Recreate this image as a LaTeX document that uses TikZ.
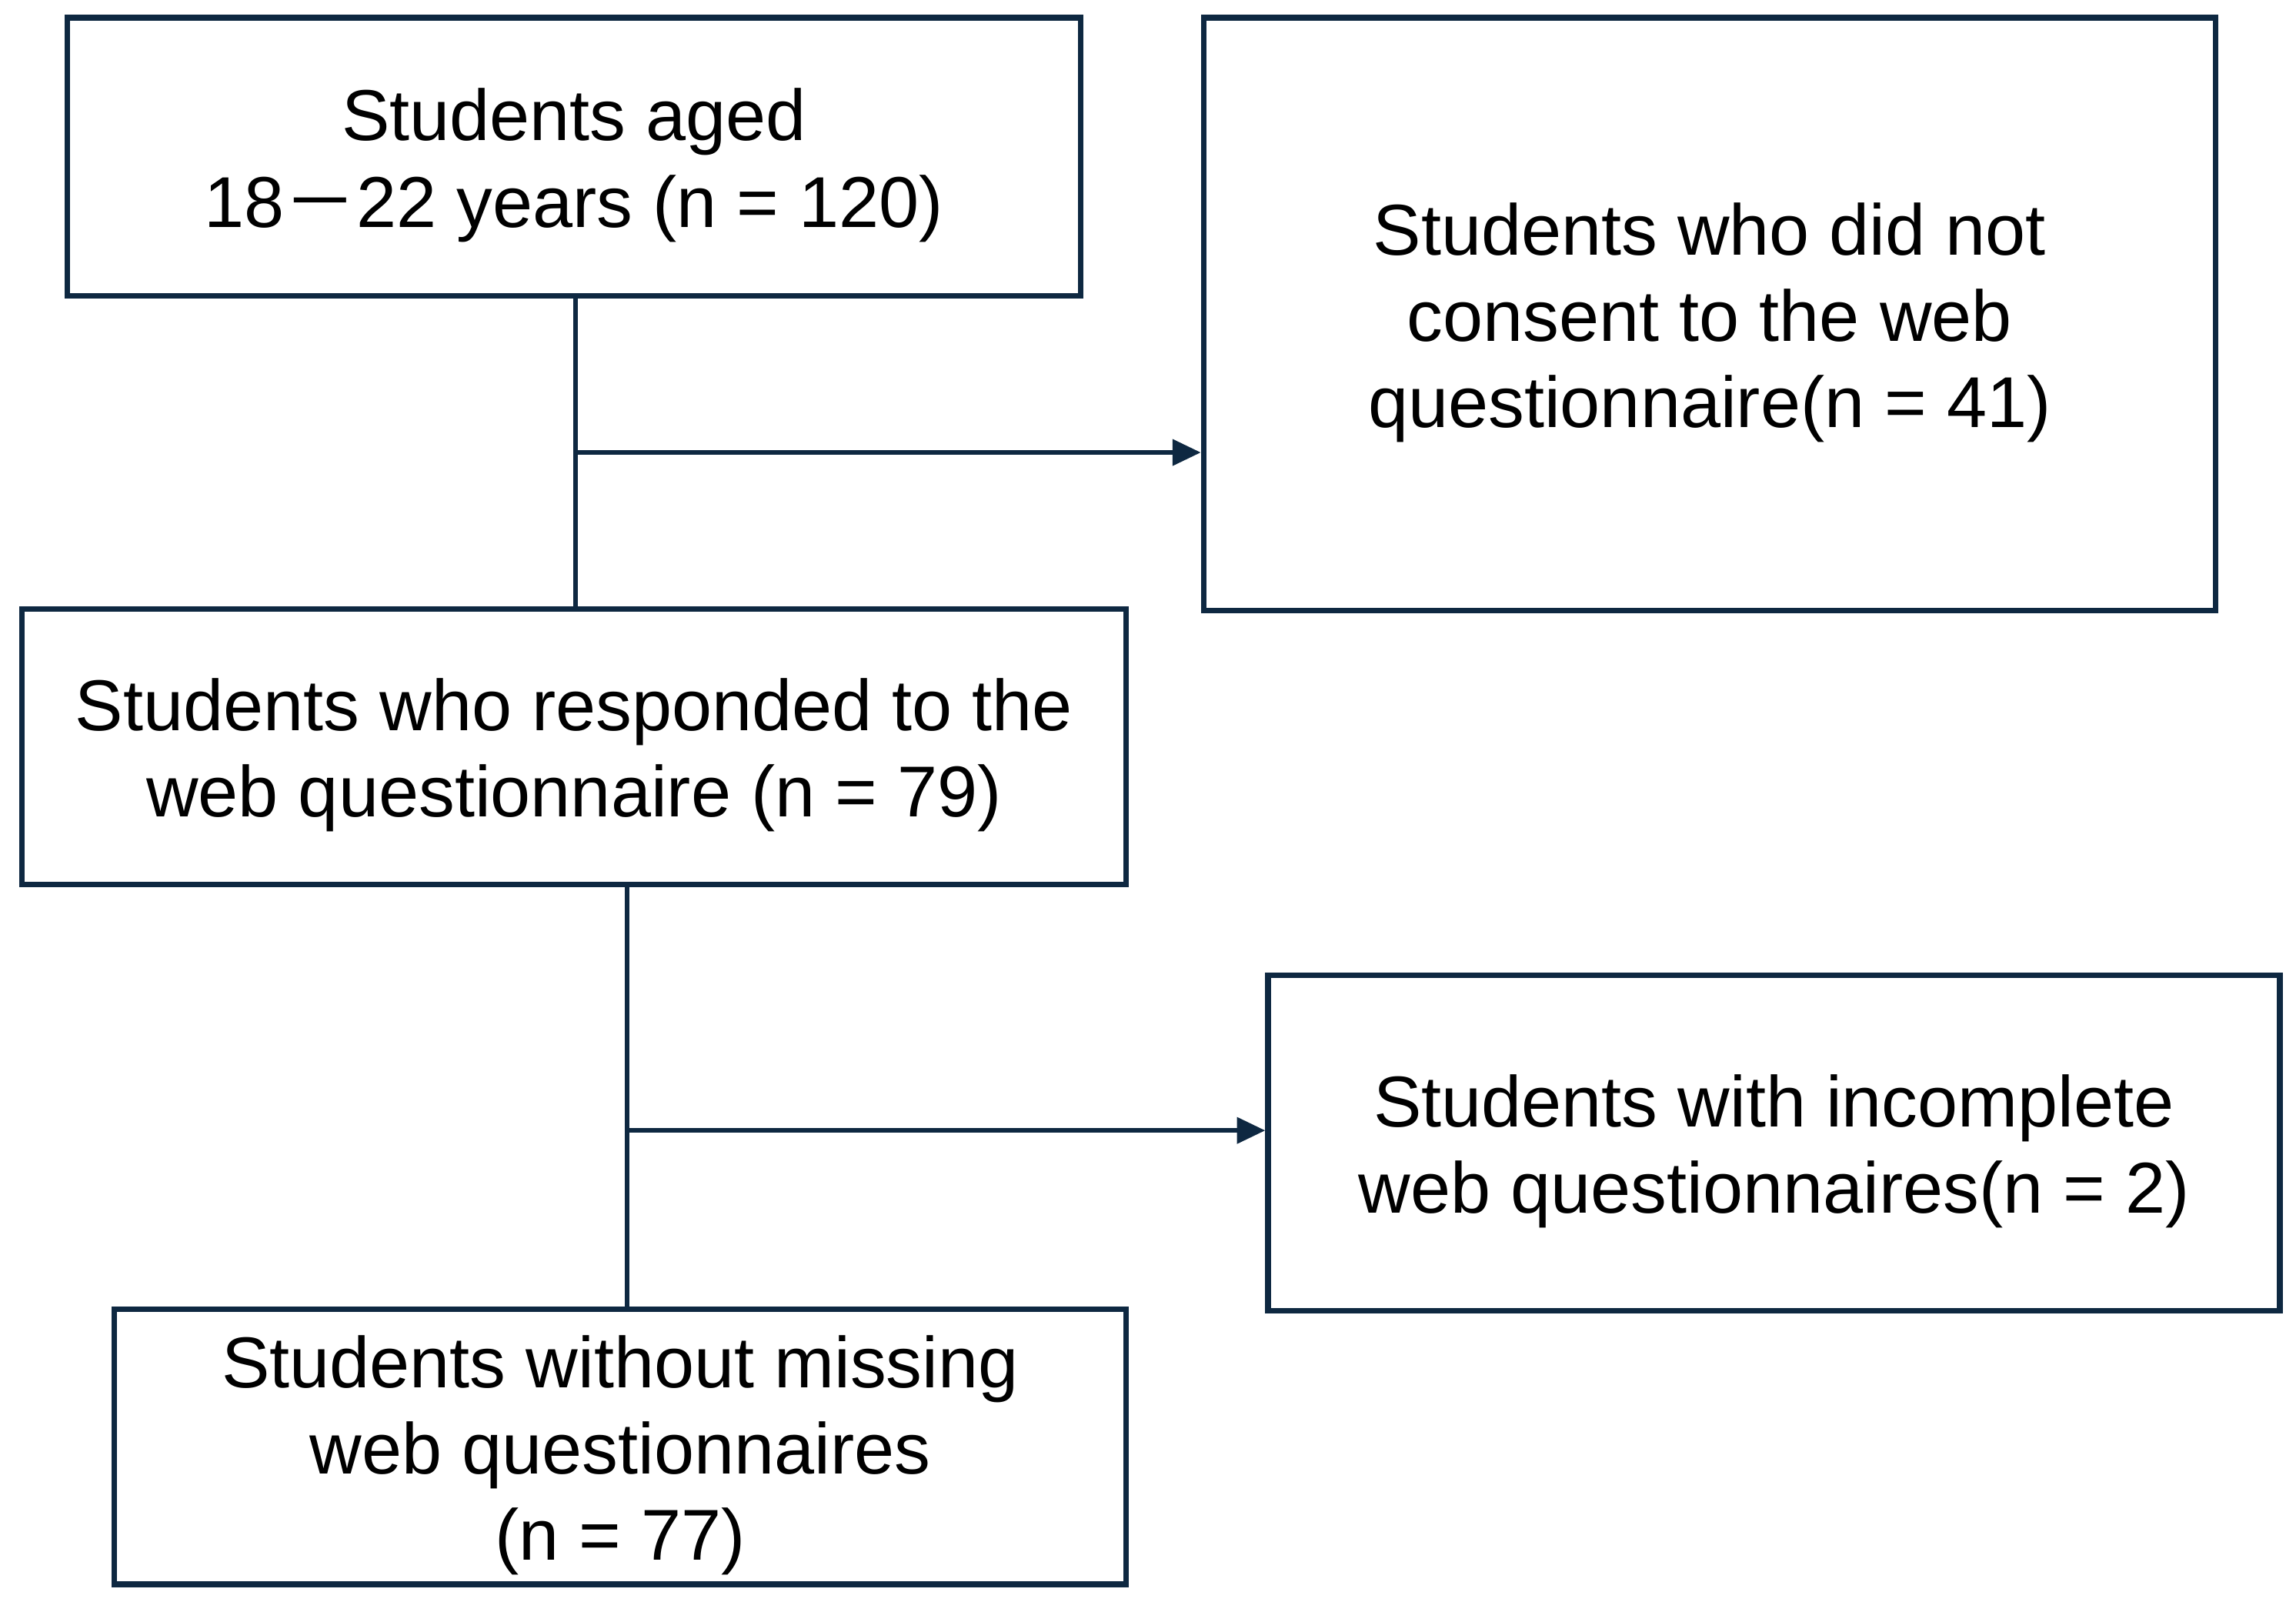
\documentclass[tikz,border=0pt]{standalone}
\usepackage{fontspec}
\setmainfont{Liberation Sans}
\newfontfamily\cjk{Noto Sans CJK JP}
\usetikzlibrary{arrows.meta}
\definecolor{flownavy}{HTML}{0E2841}
\newcommand{\topgap}{\rule{0pt}{0.96em}}

\begin{document}
\begin{tikzpicture}
    \useasboundingbox (0,0) rectangle (15.68,-10.94);
    \tikzset{stagebox/.style={draw=flownavy, line width=1.1pt, text=black, align=center,
        inner sep=0pt, font=\fontsize{14}{16.8}\selectfont}}
    \tikzset{flowline/.style={draw=flownavy, line width=0.9pt}}
    \tikzset{flowarrow/.style={flowline, -{Triangle[length=5.5pt, width=5pt]}}}

    \node[stagebox, minimum width=6.92cm, minimum height=1.90cm] (aged) at (3.92,-1.07)
        {\topgap Students aged\\18{\cjk －}22 years (n = 120)};
    \node[stagebox, minimum width=6.91cm, minimum height=4.05cm] (noconsent) at (11.675,-2.145)
        {\topgap Students who did not\\consent to the web\\questionnaire(n = 41)};
    \node[stagebox, minimum width=7.54cm, minimum height=1.88cm] (responded) at (3.92,-5.10)
        {\topgap Students who responded to the\\web questionnaire (n = 79)};
    \node[stagebox, minimum width=6.91cm, minimum height=2.29cm] (incomplete) at (12.115,-7.805)
        {\topgap Students with incomplete\\web questionnaires(n = 2)};
    \node[stagebox, minimum width=6.91cm, minimum height=1.88cm] (complete) at (4.235,-9.88)
        {\topgap Students without missing\\web questionnaires\\(n = 77)};

    \coordinate (split1) at (3.93,-3.09);
    \coordinate (split2) at (4.28,-7.72);

    \draw[flowline] (aged.south -| split1) -- (responded.north -| split1);
    \draw[flowarrow] (split1) -- (split1 -| noconsent.west);
    \draw[flowline] (responded.south -| split2) -- (complete.north -| split2);
    \draw[flowarrow] (split2) -- (split2 -| incomplete.west);
\end{tikzpicture}
\end{document}
